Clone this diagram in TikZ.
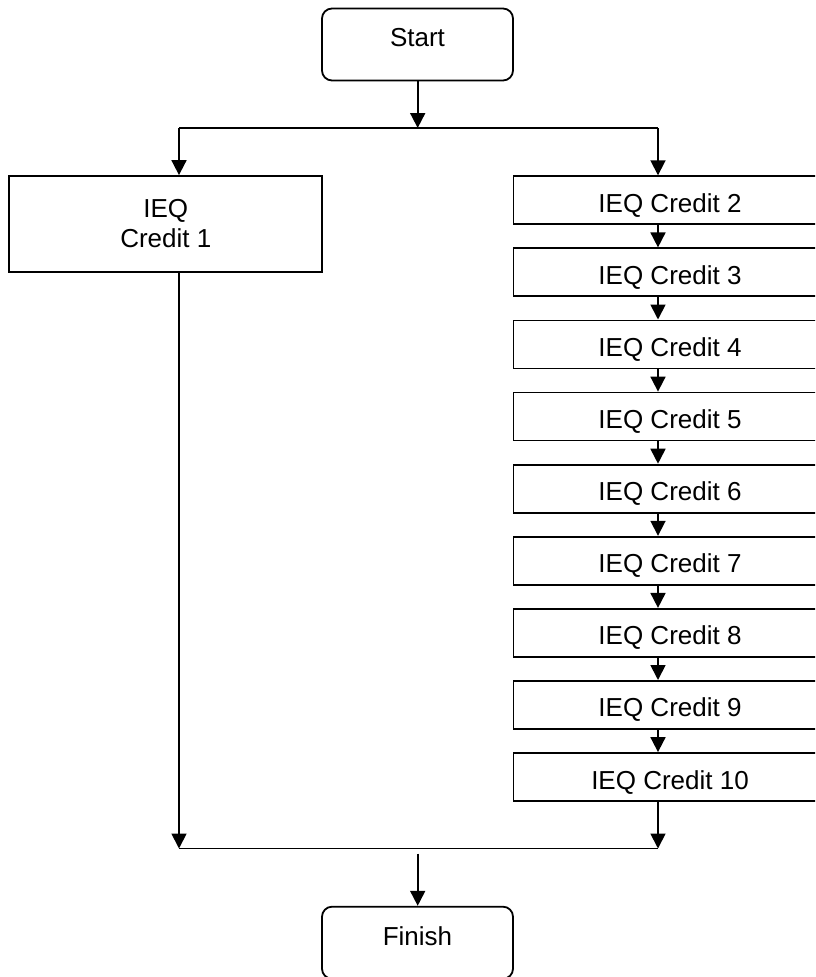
\documentclass[tikz,border=0pt]{standalone}
\usepackage{fontspec}
\setmainfont{Liberation Sans}
\usetikzlibrary{arrows.meta,calc}
\begin{document}
\begin{tikzpicture}[x=1pt,y=-1pt,
  every node/.style={font=\fontsize{26}{30}\selectfont},
  line/.style={line width=1.8pt},
  arr/.style={line width=1.8pt,-{Triangle[length=15pt,width=15pt]}},
  terminal/.style={draw,line width=1.8pt,rounded corners=10pt,minimum width=191pt,minimum height=72pt,inner sep=0pt,text height=18.7pt,text depth=14pt},
  creditbox/.style={draw,line width=1.8pt,minimum width=313pt,minimum height=48pt,inner sep=0pt,text height=24pt,text depth=0pt,align=center},
  credittall/.style={draw,line width=1.8pt,minimum width=313pt,minimum height=96pt,inner sep=0pt,align=center}
]
\useasboundingbox (0,0) rectangle (815,977);
\begin{scope}
\clip (0,0) rectangle (815,977);
\node[terminal] (start) at (417.5,44.5) {Start};
\node[terminal] (finish) at (417.5,942.7) {Finish};
\node[credittall] (c1) at (165.8,224) {IEQ\\[0pt]Credit 1};
\foreach \i in {2,...,10}{
  \node[creditbox] (c\i) at (670,{200.2+72.1*(\i-2)}) {IEQ Credit \i};
}
\coordinate (jm) at (417.7,128);
\coordinate (jl) at (179,128);
\coordinate (jr) at (658,128);
\coordinate (bl) at (179,848.5);
\coordinate (br) at (658,848.5);
\coordinate (fm) at (417.7,853.5);
\draw[arr] (start.south -| jm) -- (jm);
\draw[line] (jl) -- (jr);
\draw[arr] (jl) -- (jl |- c1.north);
\draw[arr] (jr) -- (jr |- c2.north);
\foreach \i [evaluate=\i as \j using int(\i+1)] in {2,...,9}{
  \draw[arr] (c\i.south -| jr) -- (c\j.north -| jr);
}
\draw[arr] (c1.south -| bl) -- (bl);
\draw[arr] (c10.south -| br) -- (br);
\draw[line] (bl) -- (br);
\draw[arr] (fm) -- (finish.north -| fm);
\end{scope}
\end{tikzpicture}
\end{document}
